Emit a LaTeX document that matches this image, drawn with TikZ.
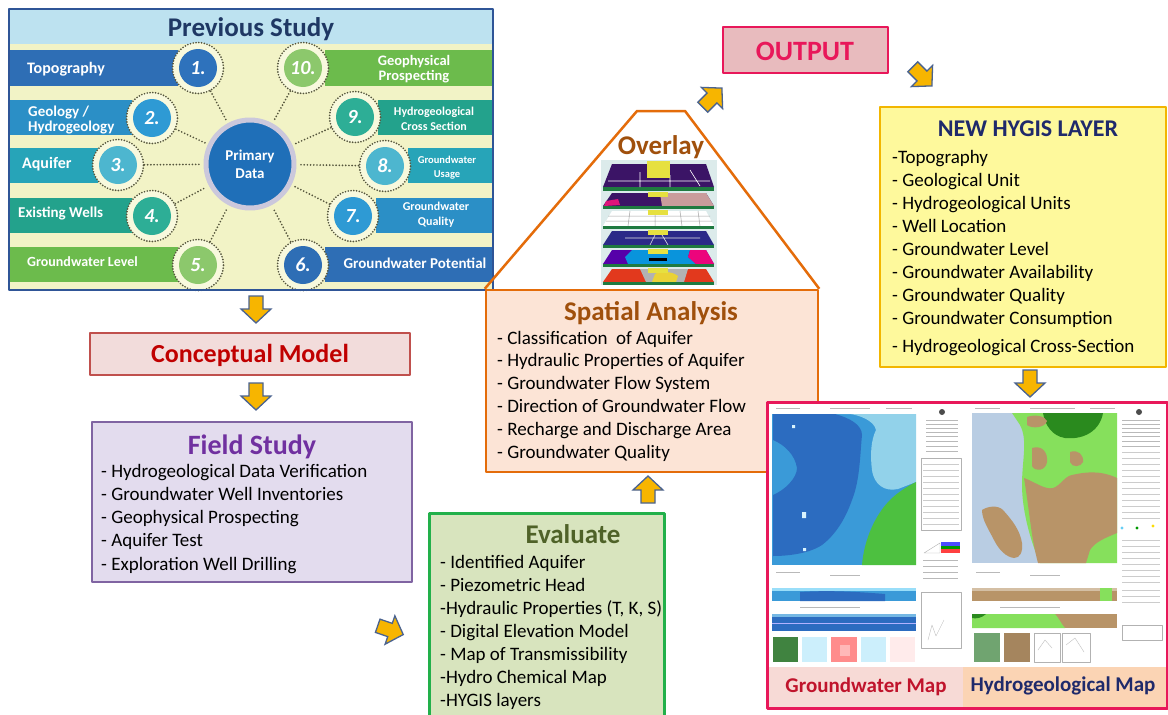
\documentclass[tikz,border=0pt]{standalone}
\usepackage{fontspec}
\setmainfont{Carlito}

% ---------- palette ----------
\definecolor{psBorder}{HTML}{2F5597}
\definecolor{psBand}{HTML}{BDE2F0}
\definecolor{psBody}{HTML}{F2F3C6}
\definecolor{psTitle}{HTML}{1F3864}
\definecolor{haloFill}{HTML}{F8F9DD}
\definecolor{dots}{HTML}{55553C}
\definecolor{barA}{HTML}{2E6EB5}
\definecolor{barB}{HTML}{2B8FC6}
\definecolor{barC}{HTML}{27A4B8}
\definecolor{barD}{HTML}{23A28C}
\definecolor{barE}{HTML}{6CBB4C}
\definecolor{dotA}{HTML}{2E72BC}
\definecolor{dotB}{HTML}{2E9AD4}
\definecolor{dotC}{HTML}{4DB6CF}
\definecolor{dotD}{HTML}{2DAE96}
\definecolor{dotE}{HTML}{8CC86C}
\definecolor{primFill}{HTML}{1F6FB8}
\definecolor{primRing}{HTML}{CBC8DC}
\definecolor{arrFill}{HTML}{F7B500}
\definecolor{arrLine}{HTML}{4A6390}
\definecolor{cmFill}{HTML}{F2DCDB}
\definecolor{cmLine}{HTML}{C0504D}
\definecolor{cmText}{HTML}{C00000}
\definecolor{fsFill}{HTML}{E3DCEE}
\definecolor{fsLine}{HTML}{8064A2}
\definecolor{fsText}{HTML}{7030A0}
\definecolor{evFill}{HTML}{D8E4BE}
\definecolor{evLine}{HTML}{22B04A}
\definecolor{evText}{HTML}{4F6228}
\definecolor{saFill}{HTML}{FCE4D6}
\definecolor{saLine}{HTML}{E46C0A}
\definecolor{saText}{HTML}{A0500C}
\definecolor{outFill}{HTML}{E8BBBE}
\definecolor{outLine}{HTML}{E8185A}
\definecolor{hyFill}{HTML}{FEF99C}
\definecolor{hyLine}{HTML}{F2B600}
\definecolor{hyText}{HTML}{1F2A6B}
\definecolor{mapLine}{HTML}{E8185A}
\definecolor{gwDark}{HTML}{2C6CC0}
\definecolor{gwMid}{HTML}{3A9AD8}
\definecolor{gwLight}{HTML}{92D2EA}
\definecolor{gwGreen}{HTML}{4DC040}
\definecolor{gwBand}{HTML}{F7DAD6}
\definecolor{gwText}{HTML}{C0142C}
\definecolor{hgBlue}{HTML}{B9CDE3}
\definecolor{hgGreen}{HTML}{86E05C}
\definecolor{hgDark}{HTML}{2A8A1E}
\definecolor{hgTan}{HTML}{B89468}
\definecolor{hgBand}{HTML}{FBD4B4}
\definecolor{ovBg}{HTML}{DCEBEB}
\definecolor{ovPurple}{HTML}{3B1466}
\definecolor{ovNavy}{HTML}{2B2A88}
\definecolor{ovEdge}{HTML}{1F7A40}
\definecolor{ovYellow}{HTML}{E6E040}

\tikzset{
  pics/blockarrow/.style={code={
    \filldraw[fill=arrFill, draw=arrLine, line width=1.3pt, line join=miter]
      (-7,-13) -- (7,-13) -- (7,0) -- (15,0) -- (0,14) -- (-15,0) -- (-7,0) -- cycle;
  }},
  ringhalo/.style={circle, minimum size=51pt, inner sep=0pt, fill=haloFill,
    draw=dots, line width=1.9pt, dash pattern=on 0pt off 2.8pt, line cap=round},
  numdisc/.style={circle, minimum size=38pt, inner sep=0pt, text=white,
    font=\fontsize{20}{20}\selectfont\bfseries\itshape},
  dotconn/.style={draw=dots, line width=1.9pt, dash pattern=on 0pt off 3.2pt, line cap=round},
  barlbl/.style={text=white, inner sep=0pt, anchor=base west},
  rlbl/.style={text=white, inner sep=0pt, anchor=base},
  boxtitle/.style={inner sep=0pt, anchor=base, font=\fontsize{27}{30}\selectfont\bfseries},
  listitem/.style={inner sep=0pt, anchor=base west, font=\fontsize{19}{23}\selectfont},
  panel/.style={draw, line width=2.5pt, inner sep=0pt},
  faint/.style={draw=gray!55, line width=0.6pt},
}

\begin{document}
\begin{tikzpicture}[x=1pt, y=-1pt, line join=round]
\useasboundingbox (0,0) rectangle (1168,715);
\clip (0,0) rectangle (1168,715);
\fill[white] (0,0) rectangle (1168,715);

% ================= Previous Study =================
\fill[psBody] (9,9) rectangle (493,290);
\fill[psBand] (9,9) rectangle (493,44);
\node[boxtitle, text=psTitle] (pstitle) at (251,36) {Previous Study};

% bars, left column
\fill[barA] (10,50) rectangle (178,86);
\fill[barB] (10,100) rectangle (132,135);
\fill[barC] (10,148) rectangle (98,183);
\fill[barD] (10,198) rectangle (132,233);
\fill[barE] (10,247) rectangle (178,282);
% bars, right column
\fill[barE] (325,50) rectangle (492,86);
\fill[barD] (378,100) rectangle (492,135);
\fill[barC] (408,148) rectangle (492,183);
\fill[barB] (376,198) rectangle (492,233);
\fill[barA] (325,247) rectangle (492,282);

% central disc
\node[circle, minimum size=88pt, inner sep=0pt, fill=primFill, draw=primRing, line width=5pt,
      text=white, align=center, font=\fontsize{15}{18}\selectfont\bfseries] (prim) at (250,164) {Primary\\Data};

% numbered discs
\foreach \k/\px/\py/\col in {1/198/68/dotA, 2/152/118/dotB, 3/118/165/dotC, 4/152/216/dotD,
    5/198/265/dotE, 6/303/265/barA, 7/353/216/dotB, 8/385/166/dotC, 9/355/117/dotD, 10/303/68/dotE}{
  \node[ringhalo] (h\k) at (\px,\py) {};
  \node[numdisc, fill=\col] (d\k) at (\px,\py) {\k.};
}
\foreach \k in {1,...,10}{
  \draw[dotconn, shorten >=3pt] (h\k) -- (prim);
}

% labels, left column
\node[barlbl, font=\fontsize{16}{16}\selectfont\bfseries] (t1) at (27,73) {Topography};
\node[barlbl, font=\fontsize{15}{15}\selectfont\bfseries] (t2a) at (28,116) {Geology /};
\node[barlbl, font=\fontsize{15}{15}\selectfont\bfseries] (t2b) at (28,131) {Hydrogeology};
\node[barlbl, font=\fontsize{16}{16}\selectfont\bfseries] (t3) at (22,168) {Aquifer};
\node[barlbl, font=\fontsize{15}{15}\selectfont\bfseries] (t4) at (18,217) {Existing Wells};
\node[barlbl, font=\fontsize{14}{14}\selectfont\bfseries] (t5) at (27,266) {Groundwater Level};
% labels, right column
\node[rlbl, font=\fontsize{14.5}{14.5}\selectfont\bfseries] (t10a) at (414,65) {Geophysical};
\node[rlbl, font=\fontsize{14.5}{14.5}\selectfont\bfseries] (t10b) at (414,80) {Prospecting};
\node[rlbl, font=\fontsize{12}{12}\selectfont\bfseries] (t9a) at (434,115) {Hydrogeological};
\node[rlbl, font=\fontsize{12}{12}\selectfont\bfseries] (t9b) at (434,130) {Cross Section};
\node[rlbl, font=\fontsize{10.5}{10.5}\selectfont\bfseries] (t8a) at (447,163) {Groundwater};
\node[rlbl, font=\fontsize{10.5}{10.5}\selectfont\bfseries] (t8b) at (447,177) {Usage};
\node[rlbl, font=\fontsize{12}{12}\selectfont\bfseries] (t7a) at (436,210) {Groundwater};
\node[rlbl, font=\fontsize{12}{12}\selectfont\bfseries] (t7b) at (436,225) {Quality};
\node[rlbl, font=\fontsize{15}{15}\selectfont\bfseries] (t6) at (415,268) {Groundwater Potential};

\draw[psBorder, line width=2.5pt] (9,9) rectangle (493,290);

% ================= Conceptual Model / Field Study =================
\node[panel, draw=cmLine, fill=cmFill, minimum width=320pt, minimum height=42pt] (cm) at (250,354) {};
\node[boxtitle, text=cmText, font=\fontsize{26}{30}\selectfont\bfseries] (cmtitle) at (250,362) {Conceptual Model};

\node[panel, draw=fsLine, fill=fsFill, minimum width=320pt, minimum height=160pt] (fs) at (252,502) {};
\node[boxtitle, text=fsText, font=\fontsize{28}{30}\selectfont\bfseries] (fstitle) at (252,454) {Field Study};
\foreach \t [count=\i] in {- Hydrogeological Data Verification, - Groundwater Well Inventories,
    - Geophysical Prospecting, - Aquifer Test, - Exploration Well Drilling}{
  \node[listitem] (fs\i) at (101,{477+23.25*(\i-1)}) {\t};
}

% ================= Evaluate =================
\node[panel, draw=evLine, fill=evFill, minimum width=235pt, minimum height=215pt, anchor=north west] (ev) at (428,512) {};
\node[boxtitle, text=evText] (evtitle) at (573,543) {Evaluate};
\foreach \t [count=\i] in {- Identified Aquifer, - Piezometric Head, {-Hydraulic Properties (T, K, S)},
    - Digital Elevation Model, - Map of Transmissibility, -Hydro Chemical Map, -HYGIS layers}{
  \node[listitem] (ev\i) at (440,{568+23*(\i-1)}) {\t};
}

% ================= Spatial Analysis with overlay roof =================
\node[panel, draw=saLine, fill=saFill, minimum width=332pt, minimum height=182pt] (sa) at (652,381) {};
\coordinate (roofL) at (637,111);
\coordinate (roofR) at (685,111);
\draw[saLine, line width=2.5pt] (sa.north west) -- (roofL) -- (roofR) -- (sa.north east);
\node[boxtitle, text=saText] (satitle) at (651,320) {Spatial Analysis};
\foreach \t [count=\i] in {- Classification\ \ of Aquifer, - Hydraulic Properties of Aquifer,
    - Groundwater Flow System, - Direction of Groundwater Flow, - Recharge and Discharge Area,
    - Groundwater Quality}{
  \node[listitem] (sa\i) at (497,{344+22.8*(\i-1)}) {\t};
}
\node[boxtitle, text=saText] (ovtitle) at (661,154) {Overlay};

% stacked thematic layers
\fill[ovBg] (601,160) rectangle (717,285);
% layer 1
\fill[ovPurple] (612,164) -- (706,164) -- (714,187) -- (603,187) -- cycle;
\fill[ovEdge] (603,187) rectangle (714,191);
\draw[white, line width=0.6pt] (608,181) -- (710,181) (640,172) -- (640,187) (670,175) -- (670,187) (690,170) -- (700,186);
\fill[ovYellow] (647,161) rectangle (670,178);
% layer 2
\fill[ovPurple] (612,193) -- (706,193) -- (714,206) -- (603,206) -- cycle;
\fill[gray!70!red!60] (660,193) -- (706,193) -- (714,206) -- (662,206) -- cycle;
\fill[magenta!70!purple] (606,201) -- (618,199) -- (620,205) -- (604,206) -- cycle;
\fill[ovEdge] (603,206) rectangle (714,209);
\fill[ovYellow] (648,192) rectangle (668,197);
% layer 3
\fill[white] (612,211) -- (706,211) -- (714,226) -- (603,226) -- cycle;
\draw[gray!70, line width=0.5pt] (608,216) -- (710,216) (606,221) -- (712,221)
  (630,211) -- (628,226) (655,211) -- (655,226) (680,211) -- (682,226) (698,211) -- (700,226);
\fill[ovEdge] (603,226) rectangle (714,229);
\fill[ovYellow] (648,210) rectangle (668,215);
% layer 4
\fill[ovNavy] (612,231) -- (706,231) -- (714,245) -- (603,245) -- cycle;
\draw[white!80!gray, line width=0.6pt] (655,235) -- (650,245) (662,235) -- (668,245) (625,238) -- (700,238);
\fill[ovEdge] (603,245) rectangle (714,248);
\fill[ovYellow] (648,230) rectangle (668,235);
% layer 5
\fill[blue!55!purple] (612,250) -- (706,250) -- (714,264) -- (603,264) -- cycle;
\fill[cyan!80!blue] (632,250) -- (690,250) -- (688,257) -- (696,264) -- (628,264) -- (625,257) -- cycle;
\fill[magenta!85!red] (690,250) -- (706,250) -- (714,264) -- (696,264) -- (688,257) -- cycle;
\fill[ovEdge] (603,264) rectangle (714,267);
\fill[black] (649,258) rectangle (667,261);
\fill[ovYellow] (648,249) rectangle (668,254);
% layer 6
\fill[red!55!brown] (612,269) -- (706,269) -- (714,282) -- (603,282) -- cycle;
\fill[gray!60] (640,269) -- (688,269) -- (684,282) -- (646,282) -- cycle;
\fill[ovYellow!85!orange] (655,274) .. controls (660,271) and (672,271) .. (678,276) -- (676,282) -- (652,282) -- cycle;
\fill[ovEdge] (603,282) rectangle (714,285);
\fill[ovYellow] (648,268) rectangle (668,273);

% ================= Output =================
\node[panel, draw=outLine, fill=outFill, minimum width=165pt, minimum height=46pt, line width=2.2pt] (out) at (805.5,50) {};
\node[boxtitle, text=outLine, font=\fontsize{28}{30}\selectfont\bfseries] (outtitle) at (805,60) {OUTPUT};

% ================= New HYGIS layer =================
\node[panel, draw=hyLine, fill=hyFill, minimum width=286pt, minimum height=260pt] (hy) at (1023,237) {};
\node[boxtitle, text=hyText, font=\fontsize{24}{28}\selectfont\bfseries] (hytitle) at (1028,136) {NEW HYGIS LAYER};
\foreach \t/\yy [count=\i] in {-Topography/163, - Geological Unit/186, - Hydrogeological Units/209,
    - Well Location/232, - Groundwater Level/255, - Groundwater Availability/278,
    - Groundwater Quality/301, - Groundwater Consumption/324, - Hydrogeological Cross-Section/352}{
  \node[listitem] (hy\i) at (892,\yy) {\t};
}

% ================= Map sheets =================
% --- groundwater map sheet
\fill[white] (768,403) rectangle (964,667);
\draw[faint] (776,408) -- (800,408) (830,408) -- (870,408) (886,408) -- (912,408);
\fill[gwMid] (772,414) rectangle (916,565);
\fill[gwLight] (835,414) -- (916,414) -- (916,482) -- (898,489)
  .. controls (885,492) and (874,485) .. (872,470)
  .. controls (870,455) and (871,440) .. (876,430)
  .. controls (874,420) and (858,415) .. (850,414) -- cycle;
\fill[gwDark] (773,414) -- (835,414)
  .. controls (850,418) and (862,425) .. (862,435)
  .. controls (860,455) and (860,480) .. (852,500)
  .. controls (845,520) and (835,535) .. (822,545)
  .. controls (810,553) and (790,556) .. (773,556) -- (773,495)
  .. controls (785,490) and (797,478) .. (797,468)
  .. controls (795,455) and (785,445) .. (773,440) -- cycle;
\fill[gwGreen] (916,482) -- (916,565) -- (862,565)
  .. controls (864,540) and (875,515) .. (890,500)
  .. controls (898,492) and (908,486) .. (916,482) -- cycle;
\fill[white!85!cyan] (802,512) rectangle (806,518) (803,548) rectangle (806,551) (792,425) rectangle (795,428);
% legend column
\fill[black!70] (942,412) circle (3);
\foreach \yy in {420,424,428,432,436,441,446,451}{ \draw[faint, line width=0.5pt] (926,\yy) -- (958,\yy); }
\draw[gray!60, line width=0.4pt] (921,458) rectangle (961,530);
\foreach \yy in {464,470,476,482,488,494,500,506,512,518,524}{ \draw[gray!40, line width=0.4pt] (923,\yy) -- (959,\yy); }
\draw[gray!60, line width=0.4pt] (924,553) -- (940,543) -- (940,553) -- cycle;
\fill[blue!70] (941,542) rectangle (960,546);
\fill[green!60!black] (941,546) rectangle (960,549);
\fill[red!75] (941,549) rectangle (960,553);
\foreach \yy in {560,566,572,578}{ \draw[faint, line width=0.5pt] (923,\yy) -- (958,\yy); }
\draw[gray!60, line width=0.4pt] (921,592) rectangle (961,648);
\draw[gray!50, line width=0.4pt] (928,640) -- (932,625) -- (936,636) -- (944,620);
% cross sections
\draw[faint, line width=0.5pt] (776,572) -- (800,572) (830,575) -- (860,575);
\fill[gwMid] (772,588) rectangle (916,601);
\fill[white!60!cyan] (772,588) rectangle (916,591);
\fill[gwDark] (800,592) .. controls (830,590) and (860,592) .. (885,594) -- (885,601) -- (800,601) -- cycle;
\draw[faint, line width=0.5pt] (800,607) -- (860,607);
\fill[gwDark] (772,614) rectangle (916,631);
\fill[gwMid!70!white] (772,614) rectangle (916,617);
\draw[white!70!blue, line width=0.5pt] (772,623) -- (916,623);
% thumbnails
\fill[green!35!black!75] (773,637) rectangle (798,662);
\fill[cyan!20] (802,637) rectangle (827,662);
\fill[red!45] (831,637) rectangle (857,662);
\fill[white!60!red!70] (840,645) rectangle (850,656);
\fill[cyan!20] (861,637) rectangle (886,662);
\fill[red!8] (890,637) rectangle (915,662);
% caption band
\fill[gwBand] (768,667) rectangle (963,707);
\node[boxtitle, text=gwText, font=\fontsize{21}{24}\selectfont\bfseries] (gwcap) at (866,692) {Groundwater Map};

% --- hydrogeological map sheet
\fill[white] (964,403) rectangle (1166,667);
\draw[faint] (975,408) -- (1000,408) (1030,408) -- (1075,408) (1090,408) -- (1115,408);
\fill[hgBlue] (972,413) rectangle (1117,563);
\fill[hgGreen] (1012,413) -- (1117,413) -- (1117,563) -- (1040,563)
  .. controls (1030,540) and (1022,510) .. (1022,485)
  .. controls (1022,460) and (1028,440) .. (1020,425) -- cycle;
\fill[hgTan] (1024,478) .. controls (1035,482) and (1045,490) .. (1053,488)
  .. controls (1060,486) and (1065,476) .. (1072,475)
  .. controls (1085,472) and (1100,470) .. (1117,478) -- (1117,533)
  .. controls (1105,538) and (1095,542) .. (1090,550) -- (1086,563) -- (1038,563)
  .. controls (1034,548) and (1032,535) .. (1030,520)
  .. controls (1028,505) and (1026,490) .. (1024,478) -- cycle;
\fill[hgDark] (1043,413) -- (1103,413) .. controls (1100,430) and (1085,440) .. (1065,438)
  .. controls (1052,436) and (1045,425) .. (1043,413) -- cycle;
\fill[hgTan] (1027,417) .. controls (1035,414) and (1045,416) .. (1047,421)
  .. controls (1045,428) and (1032,429) .. (1027,425) -- cycle;
\fill[hgTan] (1032,448) .. controls (1042,445) and (1048,452) .. (1047,462)
  .. controls (1046,470) and (1036,473) .. (1032,466) -- cycle;
\fill[hgTan] (1070,452) .. controls (1078,449) and (1084,455) .. (1083,462)
  .. controls (1081,467) and (1072,468) .. (1070,462) -- cycle;
\fill[hgTan] (982,510) .. controls (988,506) and (998,505) .. (1003,510)
  .. controls (1012,520) and (1020,530) .. (1022,543)
  .. controls (1023,552) and (1020,558) .. (1014,558)
  .. controls (1006,557) and (999,550) .. (994,540)
  .. controls (989,530) and (982,520) .. (982,510) -- cycle;
% legend column
\fill[black!70] (1139,412) circle (3);
\foreach \yy in {420,424,428,432,436,441,446}{ \draw[faint, line width=0.5pt] (1122,\yy) -- (1160,\yy); }
\foreach \yy in {452,458,464,470,476,482,488,494,500,506,512,518}{ \draw[gray!40, line width=0.4pt] (1122,\yy) -- (1160,\yy); }
\fill[cyan!60] (1122,528) circle (1.6);
\fill[green!60!black] (1137,528) circle (1.6);
\fill[yellow!80!orange] (1153,526) circle (1.6);
\foreach \yy in {540,546,552,558,564,570,576,582,590,596,602}{ \draw[gray!40, line width=0.4pt] (1122,\yy) -- (1160,\yy); }
\draw[gray!60, line width=0.4pt] (1122,625) rectangle (1162,640);
% cross sections
\draw[faint, line width=0.5pt] (976,572) -- (1000,572) (1030,575) -- (1060,575);
\fill[hgTan] (972,588) rectangle (1117,601);
\fill[hgTan!60!white] (972,588) rectangle (1117,591);
\fill[hgGreen] (1100,588) rectangle (1112,601);
\draw[faint, line width=0.5pt] (1000,607) -- (1060,607);
\fill[hgTan] (972,614) rectangle (1117,628);
\fill[hgGreen] (972,614) -- (1055,614) .. controls (1060,620) and (1062,625) .. (1065,628) -- (972,628) -- cycle;
\fill[hgDark] (972,614) -- (986,614) .. controls (982,618) and (976,619) .. (972,618) -- cycle;
% thumbnails
\fill[green!30!gray!85!black!80] (974,633) rectangle (1000,662);
\fill[hgTan!90!black] (1004,633) rectangle (1030,662);
\draw[gray!60, line width=0.4pt] (1034,633) rectangle (1060,662) (1062,633) rectangle (1090,662);
\draw[gray!50, line width=0.4pt] (1038,650) -- (1045,640) -- (1052,648) (1066,645) -- (1075,638) -- (1084,652);
% caption band
\fill[hgBand] (963,667) rectangle (1166,707);
\node[boxtitle, text=hyText, font=\fontsize{21}{24}\selectfont\bfseries] (hgcap) at (1063,691) {Hydrogeological Map};

\draw[mapLine, line width=3pt] (767,402) rectangle (1167,708);

% ================= block arrows =================
\pic at (256,309) {blockarrow};
\pic at (256,396) {blockarrow};
\pic[rotate=71] at (390,630) {blockarrow};
\pic[rotate=180] at (648,490) {blockarrow};
\pic[rotate=135] at (712,98) {blockarrow};
\pic[rotate=45] at (922,76) {blockarrow};
\pic at (1030,383) {blockarrow};
\end{tikzpicture}
\end{document}
